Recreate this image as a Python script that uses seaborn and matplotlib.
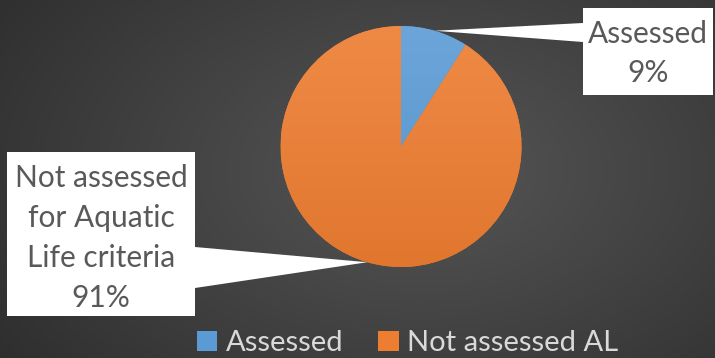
import numpy as np
import matplotlib
matplotlib.use("Agg")
import matplotlib.pyplot as plt
from matplotlib.patches import Polygon, Rectangle
from matplotlib.colors import to_rgb
import seaborn as sns

# Data
categories = ["Assessed", "Not assessed AL"]
shares = [9, 91]
callout_texts = ["Assessed\n9%", "Not assessed\nfor Aquatic\nLife criteria\n91%"]
base_colors = ["#5B9BD5", "#ED7D31"]

sns.set_theme(style="dark")
plt.rcParams["font.family"] = ["Lato", "DejaVu Sans"]

W, H = 715, 358
fig = plt.figure(figsize=(W / 100, H / 100), dpi=100)

# Radial background
bg = fig.add_axes([0, 0, 1, 1])
bg.set_axis_off()
yy, xx = np.mgrid[0:H, 0:W]
d = np.sqrt(((xx - 420) / 520) ** 2 + ((yy - 170) / 330) ** 2)
d = np.clip(d, 0, 1)
c_in, c_out = np.array(to_rgb("#565656")), np.array(to_rgb("#2e2e2e"))
img = c_in[None, None, :] * (1 - d[..., None]) + c_out[None, None, :] * d[..., None]
bg.imshow(img, extent=[0, W, H, 0], aspect="auto", zorder=0)
bg.set_xlim(0, W)
bg.set_ylim(H, 0)

# Pie
cx, cy, r = 401, 146.5, 120.5
ax = fig.add_axes([(cx - r) / W, (H - cy - r) / H, 2 * r / W, 2 * r / H])
palette = sns.color_palette(base_colors)
wedges, _ = ax.pie(shares, colors=palette, startangle=90, counterclock=False,
                   radius=1, wedgeprops=dict(linewidth=0))
ax.set_xlim(-1, 1)
ax.set_ylim(-1, 1)
ax.set_aspect("equal")
ax.set_axis_off()

def shade(c, f):
    c = np.array(to_rgb(c))
    return np.clip(c * f, 0, 1) if f < 1 else np.clip(c + (1 - c) * (f - 1), 0, 1)

t = np.linspace(0, 1, 256)[:, None, None]
for w, col in zip(wedges, palette):
    top, bot = shade(col, 1.1), shade(col, 0.95)
    grad = top[None, None, :] * (1 - t) + bot[None, None, :] * t
    grad = np.repeat(grad, 2, axis=1)
    im = ax.imshow(grad, extent=[-1, 1, -1, 1], aspect="auto", zorder=2)
    im.set_clip_path(w)

# Callouts anchored at wedge midpoints
ov = fig.add_axes([0, 0, 1, 1])
ov.set_xlim(0, W)
ov.set_ylim(H, 0)
ov.set_axis_off()
ov.patch.set_alpha(0)

boxes = [(583, 8, 713, 95), (7, 152, 195, 316)]
bases = [(583, 23, 42), (195, 247, 288)]
offsets = [2, 4]
for w, txt, (x0, y0, x1, y1), (bx, b0, b1), off in zip(wedges, callout_texts, boxes, bases, offsets):
    mid = np.deg2rad((w.theta1 + w.theta2) / 2)
    tx, ty = cx + r * np.cos(mid), cy - r * np.sin(mid)
    ov.add_patch(Polygon([(bx, b0), (bx, b1), (tx, ty)], closed=True,
                         facecolor="white", edgecolor="none", zorder=3))
    ov.add_patch(Rectangle((x0, y0), x1 - x0, y1 - y0, facecolor="white",
                           edgecolor="none", zorder=3))
    ov.text((x0 + x1) / 2, (y0 + y1) / 2 + off, txt, ha="center", va="center",
            fontsize=21.5, color="#595959", linespacing=1.52, zorder=4)

# Legend
handles = [Rectangle((0, 0), 1, 1, facecolor=c, edgecolor="none") for c in palette]
fig.legend(handles, categories, loc="lower center", bbox_to_anchor=(0.57, -0.068),
           ncol=2, frameon=False, fontsize=21, labelcolor="#d9d9d9",
           handlelength=0.7, handleheight=0.7, handletextpad=0.3, columnspacing=1.2)

fig.savefig("out.png", dpi=100)
